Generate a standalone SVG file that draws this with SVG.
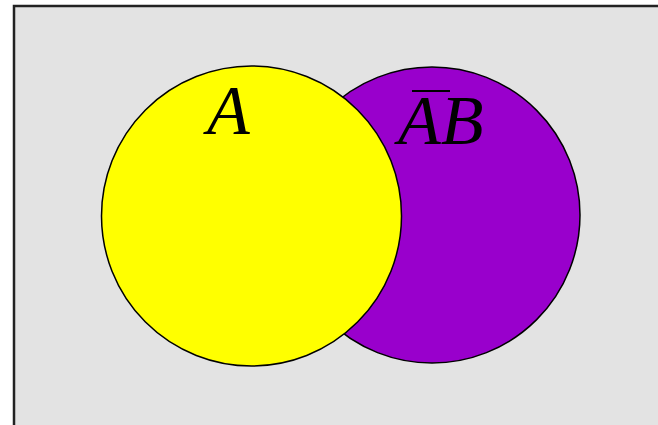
<svg xmlns="http://www.w3.org/2000/svg" width="658" height="425" viewBox="0 0 658 425">
<style>
.c{stroke:#000;stroke-width:1.5}
.t{font-family:"Liberation Serif","Times New Roman",serif;font-style:italic;font-size:70px;fill:#000}
</style>
<rect x="0" y="0" width="658" height="425" fill="#fff"/>
<rect id="frame" x="14" y="6" width="660" height="430" fill="#e3e3e3" stroke="#222" stroke-width="2.5"/>
<g id="notAB">
<circle class="c" cx="432" cy="215" r="148" fill="#9900cc"/>
<text class="t" x="398" y="144">AB</text>
<line x1="412" y1="91" x2="450" y2="91" stroke="#000" stroke-width="2"/>
</g>
<g id="A">
<circle class="c" cx="251.5" cy="216" r="150" fill="#ffff00"/>
<text class="t" x="207" y="134">A</text>
</g>
<g id="connectors"/>
</svg>
